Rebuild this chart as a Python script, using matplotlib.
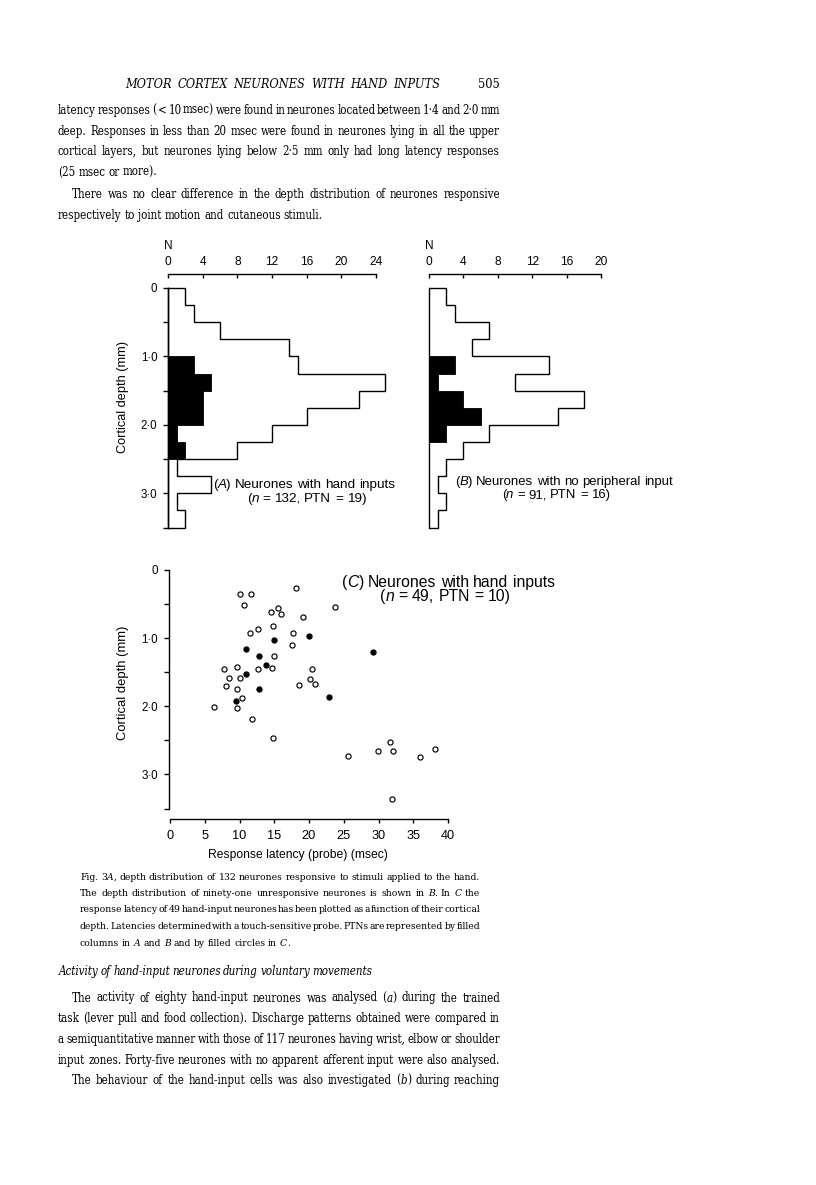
import numpy as np
import matplotlib
matplotlib.use("Agg")
import matplotlib.pyplot as plt
from matplotlib import font_manager as fm
from matplotlib.font_manager import FontProperties

W, H, DPI = 816, 1185, 100

# ---------------- data ----------------
depth_edges = [0.0, 0.25, 0.5, 0.75, 1.0, 1.25, 1.5, 1.75, 2.0, 2.25, 2.5, 2.75, 3.0, 3.25, 3.5]
hand_all = [2, 3, 6, 14, 15, 25, 22, 16, 12, 8, 1, 5, 1, 2]
hand_ptn = [0, 0, 0, 0, 3, 5, 4, 4, 1, 2, 0, 0, 0, 0]
none_all = [2, 3, 7, 5, 14, 10, 18, 15, 7, 4, 2, 1, 2, 1]
none_ptn = [0, 0, 0, 0, 3, 1, 4, 6, 2, 0, 0, 0, 0, 0]

hist_a_ticks = [0, 4, 8, 12, 16, 20, 24]
hist_b_ticks = [0, 4, 8, 12, 16, 20]
depth_ticks = [0, 0.5, 1.0, 1.5, 2.0, 2.5, 3.0, 3.5]
depth_labels = ["0", "", "1·0", "", "2·0", "", "3·0", ""]
latency_ticks = [0, 5, 10, 15, 20, 25, 30, 35, 40]

open_latency = [10.0, 11.7, 18.1, 10.7, 15.5, 14.6, 16.0, 23.7, 19.2, 11.5, 12.6, 14.8, 17.7,
                17.6, 14.9, 7.7, 9.7, 8.5, 10.1, 8.0, 9.6, 12.7, 14.7, 20.5, 20.1, 18.5, 20.8,
                10.4, 9.6, 6.3, 11.8, 14.8, 31.7, 29.9, 32.1, 38.1, 25.6, 35.9, 31.9]
open_depth = [0.35, 0.35, 0.27, 0.51, 0.56, 0.61, 0.64, 0.54, 0.69, 0.92, 0.86, 0.82, 0.93,
              1.10, 1.26, 1.45, 1.43, 1.58, 1.58, 1.70, 1.75, 1.45, 1.44, 1.45, 1.60, 1.69, 1.68,
              1.88, 2.02, 2.01, 2.18, 2.47, 2.52, 2.66, 2.65, 2.63, 2.73, 2.74, 3.36]
ptn_latency = [10.9, 14.9, 20.0, 12.8, 13.8, 11.0, 12.8, 9.5, 22.9, 29.2]
ptn_depth = [1.16, 1.03, 0.97, 1.26, 1.40, 1.52, 1.75, 1.92, 1.87, 1.20]

# ---------------- page text ----------------
header_title = "MOTOR CORTEX NEURONES WITH HAND INPUTS"
page_number = "505"
para1 = [
    "latency responses ( < 10 msec) were found in neurones located between 1·4 and 2·0 mm",
    "deep. Responses in less than 20 msec were found in neurones lying in all the upper",
    "cortical layers, but neurones lying below 2·5 mm only had long latency responses",
    "(25 msec or more).",
    "There was no clear difference in the depth distribution of neurones responsive",
    "respectively to joint motion and cutaneous stimuli.",
]
caption = [
    "Fig. 3_A_, depth distribution of 132 neurones responsive to stimuli applied to the hand.",
    "The depth distribution of ninety-one unresponsive neurones is shown in _B_. In _C_ the",
    "response latency of 49 hand-input neurones has been plotted as a function of their cortical",
    "depth. Latencies determined with a touch-sensitive probe. PTNs are represented by filled",
    "columns in _A_ and _B_ and by filled circles in _C_.",
]
heading = "Activity of hand-input neurones during voluntary movements"
para2 = [
    "The activity of eighty hand-input neurones was analysed (_a_) during the trained",
    "task (lever pull and food collection). Discharge patterns obtained were compared in",
    "a semiquantitative manner with those of 117 neurones having wrist, elbow or shoulder",
    "input zones. Forty-five neurones with no apparent afferent input were also analysed.",
    "The behaviour of the hand-input cells was also investigated (_b_) during reaching",
]
label_a = ["(_A_) Neurones with hand inputs", "(_n_ = 132, PTN = 19)"]
label_b = ["(_B_) Neurones with no peripheral input", "(_n_ = 91, PTN = 16)"]
label_c = ["(_C_)  Neurones with hand inputs", "(_n_ = 49, PTN = 10)"]
depth_title = "Cortical depth (mm)"
latency_title = "Response latency (probe) (msec)"
count_title = "N"

# ---------------- fonts ----------------
plt.rcParams['font.family'] = ['Liberation Sans', 'DejaVu Sans']


def find_serif(italic):
    for f in fm.fontManager.ttflist:
        fn = f.fname.lower().replace('-', '').replace('_', '')
        if 'dejavuserifcondensed' in fn and 'bold' not in fn:
            is_it = ('italic' in fn) or ('oblique' in fn)
            if is_it == italic:
                return FontProperties(fname=f.fname)
    return FontProperties(family='Liberation Serif', style='italic' if italic else 'normal')


SERIF_R = find_serif(False)
SERIF_I = find_serif(True)
SANS_R = FontProperties(family='Liberation Sans')
SANS_I = FontProperties(family='Liberation Sans', style='italic')

fig = plt.figure(figsize=(W / DPI, H / DPI), dpi=DPI)
fig.patch.set_facecolor('white')
renderer = fig.canvas.get_renderer()


def sized(p, s):
    q = p.copy()
    q.set_size(s)
    return q


def tw(s, prop):
    return renderer.get_text_width_height_descent(s, prop, ismath=False)[0]


def segs_of(word, base_italic=False):
    parts = word.split('_')
    out = []
    for i, p in enumerate(parts):
        if p:
            out.append((p, base_italic ^ (i % 2 == 1)))
    return out


def word_width(word, pr, pi, base_italic=False):
    return sum(tw(s, pi if it else pr) for s, it in segs_of(word, base_italic))


def space_w(pr):
    return tw('n n', pr) - tw('nn', pr)


def natural_width(text, pr, pi, base_italic=False):
    words = text.split()
    return sum(word_width(w, pr, pi, base_italic) for w in words) + (len(words) - 1) * space_w(pr)


def put(x, y, s, prop):
    fig.text(x / W, 1 - y / H, s, fontproperties=prop, va='baseline', ha='left', color='black')


def draw_line(text, x0, x1, y, pr, pi, justify, base_italic=False):
    words = text.split()
    widths = [word_width(w, pr, pi, base_italic) for w in words]
    if justify and len(words) > 1:
        gap = (x1 - x0 - sum(widths)) / (len(words) - 1)
    else:
        gap = space_w(pr)
    x = x0
    for w, wd in zip(words, widths):
        xx = x
        for s, it in segs_of(w, base_italic):
            p = pi if it else pr
            put(xx, y, s, p)
            xx += tw(s, p)
        x += wd + gap


def fit_size(specs, base_r, base_i, target, min_gap_em=0.15, base_italic=False):
    ref = 10.0
    pr, pi = sized(base_r, ref), sized(base_i, ref)
    best = target
    for text, x0, x1 in specs:
        words = text.split()
        wsum = sum(word_width(w, pr, pi, base_italic) for w in words)
        n = len(words) - 1
        s_max = (x1 - x0) / (wsum / ref + n * min_gap_em * DPI / 72.0)
        best = min(best, s_max)
    return best


# ---------------- body text layout ----------------
p1_layout = [(58, 500, 114.3, True), (58, 500, 134.8, True), (58, 500, 155.3, True),
             (58, 500, 175.6, False), (72, 500, 198.3, True), (58, 500, 218.6, False)]
cap_layout = [(80, 480, 879.5, True), (80, 480, 896.0, True), (80, 480, 912.5, True),
              (80, 480, 929.0, True), (80, 480, 945.5, False)]
p2_layout = [(72, 500, 1001.5, True), (58, 500, 1022.2, True), (58, 500, 1042.9, True),
             (58, 500, 1063.6, True), (72, 500, 1084.3, True)]

body_specs = [(t, l[0], l[1]) for t, l in zip(para1, p1_layout) if l[3]] + \
             [(t, l[0], l[1]) for t, l in zip(para2, p2_layout) if l[3]]
body_size = fit_size(body_specs, SERIF_R, SERIF_I, 10.5, min_gap_em=0.14)
cap_size = fit_size([(t, l[0], l[1]) for t, l in zip(caption, cap_layout) if l[3]],
                    SERIF_R, SERIF_I, 9.3, min_gap_em=0.13)

br, bi = sized(SERIF_R, body_size), sized(SERIF_I, body_size)
cr, ci = sized(SERIF_R, cap_size), sized(SERIF_I, cap_size)

# header (italic capitals, spread across its measure)
hdr_size = fit_size([(header_title, 125, 440)], SERIF_R, SERIF_I, 10.8,
                    min_gap_em=0.45, base_italic=True)
hr, hi = sized(SERIF_R, hdr_size), sized(SERIF_I, hdr_size)
draw_line(header_title, 125, 440, 88.3, hr, hi, True, base_italic=True)
fig.text(500 / W, 1 - 88.3 / H, page_number, fontproperties=sized(SERIF_R, hdr_size),
         ha='right', va='baseline')

for t, (x0, x1, y, j) in zip(para1, p1_layout):
    draw_line(t, x0, x1, y, br, bi, j)
for t, (x0, x1, y, j) in zip(caption, cap_layout):
    draw_line(t, x0, x1, y, cr, ci, j)
draw_line(heading, 59, 372, 975.0, br, bi, True, base_italic=True)
for t, (x0, x1, y, j) in zip(para2, p2_layout):
    draw_line(t, x0, x1, y, br, bi, j)


# ---------------- charts ----------------
def px_axes(left, top, right, bottom):
    return fig.add_axes([left / W, 1 - bottom / H, (right - left) / W, (bottom - top) / H])


LW = 1.0
TOP_OFFSET = 10.4  # points


def style_hist_axes(ax, xmax, ticks, show_left):
    ax.set_xlim(0, xmax)
    ax.set_ylim(depth_edges[-1], depth_edges[0])
    ax.patch.set_alpha(0)
    for s in ['right', 'bottom']:
        ax.spines[s].set_visible(False)
    ax.spines['top'].set_position(('outward', TOP_OFFSET))
    ax.spines['top'].set_linewidth(LW)
    ax.xaxis.set_ticks_position('top')
    ax.set_xticks(ticks)
    ax.set_xticklabels([str(t) for t in ticks])
    ax.tick_params(axis='x', direction='in', length=3.0, width=LW, pad=3.8, labelsize=8.6)
    if show_left:
        ax.spines['left'].set_linewidth(LW)
        ax.set_yticks(depth_ticks)
        ax.set_yticklabels(depth_labels)
        ax.tick_params(axis='y', direction='out', length=3.6, width=LW, pad=4.0, labelsize=8.3)
    else:
        ax.spines['left'].set_visible(False)
        ax.set_yticks([])


def draw_hist(ax, allv, ptnv):
    ax.stairs(allv, depth_edges, orientation='horizontal', baseline=0, color='black',
              lw=LW, clip_on=False)
    ax.stairs(ptnv, depth_edges, orientation='horizontal', baseline=0, fill=True,
              facecolor='black', edgecolor='black', lw=0.6, clip_on=False)
    ax.plot([0, 0], [depth_edges[0], depth_edges[-1]], color='black', lw=LW, clip_on=False)


def rich_label(lines, x0_1, x1_1, y1, x0_2, y2):
    ref = 10.0
    w10 = natural_width(lines[0], sized(SANS_R, ref), sized(SANS_I, ref))
    size = ref * (x1_1 - x0_1) / w10
    pr, pi = sized(SANS_R, size), sized(SANS_I, size)
    draw_line(lines[0], x0_1, x1_1, y1, pr, pi, False)
    draw_line(lines[1], x0_2, None, y2, pr, pi, False)


def fitted_sans(text, width):
    return 10.0 * width / tw(text, sized(SANS_R, 10.0))


# Panel A
axA = px_axes(168, 288, 376, 527.5)
draw_hist(axA, hand_all, hand_ptn)
style_hist_axes(axA, hist_a_ticks[-1], hist_a_ticks, True)
ylab_size = fitted_sans(depth_title, 113)
axA.set_ylabel(depth_title, fontsize=ylab_size, va='center', ha='center')
axA.yaxis.set_label_coords((123 - 168) / 208.0, (527.5 - 397) / 239.5)
fig.text(168 / W, 1 - 245.7 / H, count_title, ha='center', va='center', fontsize=8.6)
rich_label(label_a, 212.7, 394.3, 488.3, 246.7, 501.7)

# Panel B
axB = px_axes(429, 288, 601, 527.5)
draw_hist(axB, none_all, none_ptn)
style_hist_axes(axB, hist_b_ticks[-1], hist_b_ticks, False)
fig.text(429 / W, 1 - 245.5 / H, count_title, ha='center', va='center', fontsize=8.6)
rich_label(label_b, 455.0, 673.3, 485.0, 501.7, 498.3)

# Panel C
axC = px_axes(170, 570, 448, 808.5)
axC.plot(open_latency, open_depth, 'o', ms=3.7, mfc='white', mec='black', mew=0.85,
         clip_on=False, zorder=3)
axC.plot(ptn_latency, ptn_depth, 'o', ms=3.9, mfc='black', mec='black', mew=0.6,
         clip_on=False, zorder=3)
axC.set_xlim(latency_ticks[0], latency_ticks[-1])
axC.set_ylim(depth_ticks[-1], depth_ticks[0])
axC.patch.set_alpha(0)
for s in ['top', 'right']:
    axC.spines[s].set_visible(False)
axC.spines['left'].set_position(('outward', 1.0))
axC.spines['bottom'].set_position(('outward', 7.6))
axC.spines['left'].set_linewidth(LW)
axC.spines['bottom'].set_linewidth(LW)
axC.set_xticks(latency_ticks)
axC.set_xticklabels([str(t) for t in latency_ticks])
axC.set_yticks(depth_ticks)
axC.set_yticklabels(depth_labels)
axC.tick_params(axis='x', direction='out', length=3.0, width=LW, pad=4.8, labelsize=9.2)
axC.tick_params(axis='y', direction='out', length=3.6, width=LW, pad=4.0, labelsize=8.3)
axC.set_ylabel(depth_title, fontsize=fitted_sans(depth_title, 115), va='center', ha='center')
axC.yaxis.set_label_coords((123 - 170) / 278.0, (808.5 - 683) / 238.5)
axC.set_xlabel(latency_title, fontsize=fitted_sans(latency_title, 180), va='center', ha='center')
axC.xaxis.set_label_coords((298 - 170) / 278.0, (808.5 - 855) / 238.5)
rich_label(label_c, 341.7, 555.0, 587.3, 380.0, 600.7)

fig.savefig('out.png', dpi=DPI, facecolor='white')
